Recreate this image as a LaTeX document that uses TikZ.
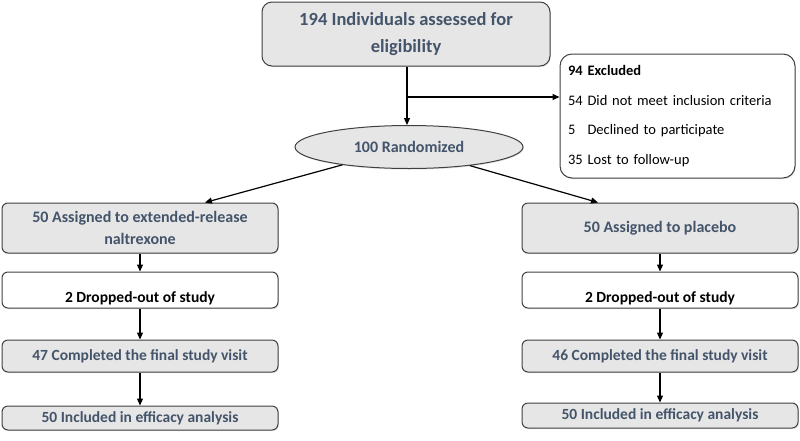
\documentclass[tikz,border=0pt]{standalone}
\usepackage{fontspec}
\setmainfont{Carlito}
\usepackage{tikz}
\usetikzlibrary{positioning,shapes.geometric,arrows.meta,shadows}
\definecolor{boxgrey}{RGB}{230,230,230}
\definecolor{slatetext}{RGB}{68,84,106}
\definecolor{edgegrey}{RGB}{64,64,64}

\begin{document}
\begin{tikzpicture}[x=1pt,y=-1pt,
    greybox/.style={draw=edgegrey, line width=1pt, fill=boxgrey, rounded corners=6pt, inner sep=0pt,
      text=slatetext, align=center, font=\bfseries\fontsize{15.5}{18}\selectfont,
      drop shadow={opacity=0.2, shadow xshift=0.8pt, shadow yshift=-1.2pt}},
    whitebox/.style={greybox, fill=white, text=black},
    dropbox/.style={whitebox, minimum width=276pt, minimum height=36pt, text height=28pt, text depth=3pt},
    link/.style={-{Triangle[length=7pt,width=6pt]}, line width=1.2pt}]
    \useasboundingbox (0,0) rectangle (800,440);
    % screening and randomisation
    \node[greybox, rounded corners=10pt, minimum width=288pt, minimum height=64pt,
      font=\bfseries\fontsize{18.5}{27}\selectfont] (elig) at (406,34) {194 Individuals assessed for\\eligibility};
    \node[whitebox, rounded corners=12pt, minimum width=235pt, minimum height=124pt, text width=219pt,
      align=left, font=\fontsize{14.5}{29.5}\selectfont] (excl) at (677.5,116)
      {\textbf{94 Excluded}\\54 Did not meet inclusion criteria\\5\hphantom{4} Declined to participate\\35 Lost to follow-up};
    \node[greybox, ellipse, minimum width=228pt, minimum height=43pt, font=\bfseries\fontsize{16}{18}\selectfont] (rand) at (409,147) {100 Randomized};
    \coordinate (split) at (407,97);
    \draw[link] (elig.south -| split) -- (rand.north -| split);
    \draw[link] (split) -- (split -| excl.west);

    % extended-release naltrexone arm
    \node[greybox, minimum width=276pt, minimum height=50pt, font=\bfseries\fontsize{16}{21.5}\selectfont] (xrAssign) at (140,228) {50 Assigned to extended-release\\naltrexone};
    \node[dropbox] (xrDrop) at (140,290) {2 Dropped-out of study};
    \node[greybox, minimum width=276pt, minimum height=32pt] (xrDone) at (140,356) {47 Completed the final study visit};
    \node[greybox, minimum width=276pt, minimum height=24pt] (xrEff) at (140,418) {50 Included in efficacy analysis};

    % placebo arm
    \node[greybox, minimum width=276pt, minimum height=50pt, font=\bfseries\fontsize{16}{21.5}\selectfont] (plAssign) at (660,228) {50 Assigned to placebo};
    \node[dropbox] (plDrop) at (660,290) {2 Dropped-out of study};
    \node[greybox, minimum width=276pt, minimum height=32pt] (plDone) at (660,356) {46 Completed the final study visit};
    \node[greybox, minimum width=276pt, minimum height=25pt] (plEff) at (660,415.5) {50 Included in efficacy analysis};

    \draw[link] (rand.195) -- ([xshift=65pt]xrAssign.north);
    \draw[link] (rand.343) -- ([xshift=-62pt]plAssign.north);
    \draw[link] (xrAssign) -- (xrDrop);
    \draw[link] (xrDrop) -- (xrDone);
    \draw[link] (xrDone) -- (xrEff);
    \draw[link] (plAssign) -- (plDrop);
    \draw[link] (plDrop) -- (plDone);
    \draw[link] (plDone) -- (plEff);
\end{tikzpicture}
\end{document}
